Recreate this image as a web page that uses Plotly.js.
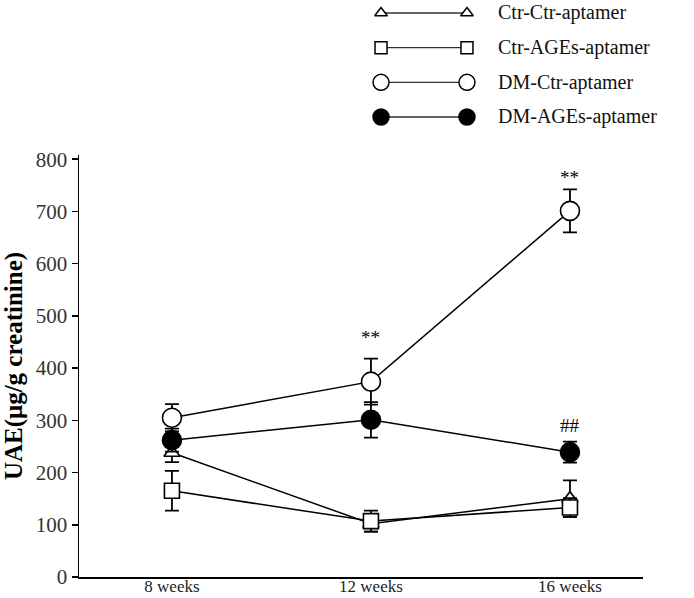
<!DOCTYPE html>
<html>
<head>
<meta charset="utf-8">
<script src="https://cdn.plot.ly/plotly-3.0.1.min.js"></script>
<style>html,body{margin:0;padding:0;background:#fff;}#chart{width:694px;height:598px;}</style>
</head>
<body>
<div id="chart"></div>
<script>
// ---- data ----
const weeks = [0, 1, 2];
const weekLabels = ['8 weeks', '12 weeks', '16 weeks'];
const seriesNames = ['Ctr-Ctr-aptamer', 'Ctr-AGEs-aptamer', 'DM-Ctr-aptamer', 'DM-AGEs-aptamer'];
const ctrCtr = [238, 102, 150];
const ctrCtrErr = [18, 15, 35];
const ctrAges = [165, 107, 133];
const ctrAgesErr = [38, 20, 18];
const dmCtr = [305, 374, 701];
const dmCtrErr = [26, 44, 41];
const dmAges = [262, 301, 239];
const dmAgesErr = [22, 34, 20];
const yTicks = [0, 100, 200, 300, 400, 500, 600, 700, 800];
const sigMarks = [
  {x: 1, y: 458, text: '**'},
  {x: 2, y: 765, text: '**'},
  {x: 2, y: 290, text: '##'}
];
const legendRows = [0, 1, 2, 3];

const serif = 'Liberation Serif';
const styles = [
  {symbol: 'triangle-up', color: '#fff', size: 14},
  {symbol: 'square', color: '#fff', size: 15},
  {symbol: 'circle', color: '#fff', size: 19},
  {symbol: 'circle', color: '#000', size: 19}
];
const values = [ctrCtr, ctrAges, dmCtr, dmAges];
const errs = [ctrCtrErr, ctrAgesErr, dmCtrErr, dmAgesErr];

const traces = [];
values.forEach((v, i) => {
  traces.push({
    x: weeks, y: v, type: 'scatter', mode: 'lines+markers', name: seriesNames[i],
    line: {color: '#000', width: 1.5},
    marker: {symbol: styles[i].symbol, size: styles[i].size, color: styles[i].color, line: {color: '#000', width: 1.6}},
    error_y: {type: 'data', array: errs[i], visible: true, color: '#000', thickness: 1.8, width: 7},
    cliponaxis: false, showlegend: false, xaxis: 'x', yaxis: 'y'
  });
});
// custom legend samples on a hidden axis pair
legendRows.forEach((r, i) => {
  traces.push({
    x: [0, 1], y: [r, r], type: 'scatter', mode: 'lines+markers',
    line: {color: '#333', width: 1.3},
    marker: {symbol: styles[i].symbol, size: styles[i].size - 3, color: styles[i].color, line: {color: '#000', width: 1.5}},
    cliponaxis: false, showlegend: false, hoverinfo: 'skip', xaxis: 'x2', yaxis: 'y2'
  });
});

const annotations = sigMarks.map(s => ({
  x: s.x, y: s.y, xref: 'x', yref: 'y', text: s.text, showarrow: false,
  font: {family: serif, size: 19, color: '#000'}
}));
legendRows.forEach((r, i) => {
  annotations.push({
    x: 0.74, y: r, xref: 'paper', yref: 'y2', text: seriesNames[i], showarrow: false,
    xanchor: 'left', yanchor: 'middle', font: {family: serif, size: 20, color: '#111'}
  });
});

const layout = {
  width: 694, height: 598,
  margin: {l: 79, r: 51, t: 0, b: 21},
  paper_bgcolor: '#fff', plot_bgcolor: '#fff',
  showlegend: false,
  font: {family: serif, color: '#222'},
  xaxis: {
    range: [-0.467, 2.367], tickvals: weeks, ticktext: weekLabels,
    showgrid: false, zeroline: false, showline: true, linecolor: '#000', linewidth: 1.5,
    ticks: '', ticklabelstandoff: -7, tickfont: {family: serif, size: 17, color: '#222'}, fixedrange: true
  },
  yaxis: {
    domain: [0, 0.7314], range: [0, 808], tickvals: yTicks,
    showgrid: false, zeroline: false, showline: true, linecolor: '#000', linewidth: 1.5,
    ticks: 'outside', ticklen: 6, tickcolor: '#000', tickwidth: 1.5,
    tickfont: {family: serif, size: 21, color: '#333'},
    title: {text: '<b>UAE(μg/g creatinine)</b>', font: {family: serif, size: 25, color: '#000'}, standoff: 8}
  },
  xaxis2: {domain: [0.5355, 0.6879], range: [0, 1], visible: false, anchor: 'y2'},
  yaxis2: {domain: [0.7792, 0.9955], range: [3.3, -0.3], visible: false, anchor: 'x2'},
  annotations: annotations
};

Plotly.newPlot('chart', traces, layout, {displayModeBar: false, staticPlot: true});
</script>
</body>
</html>
